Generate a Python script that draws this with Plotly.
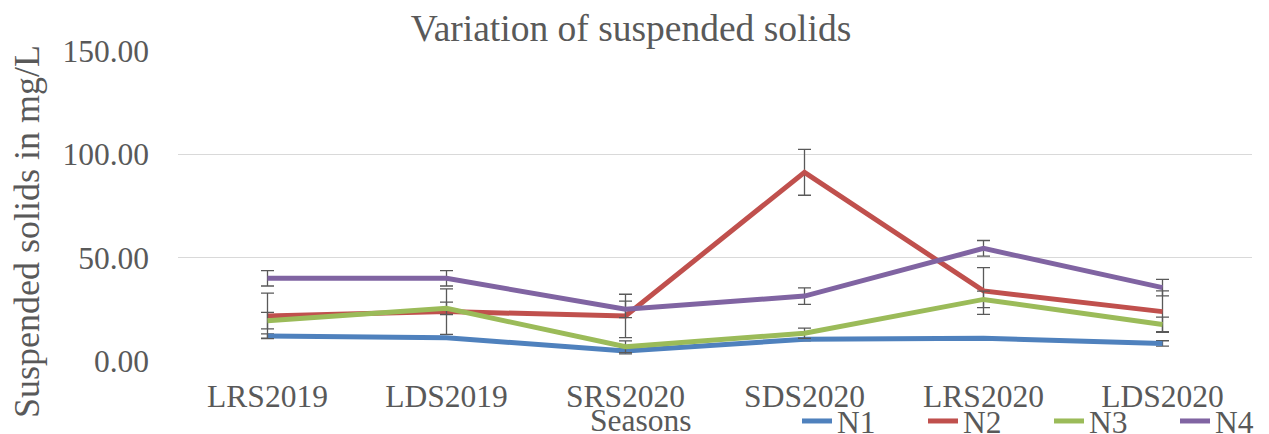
import plotly.graph_objects as go

categories = ["LRS2019", "LDS2019", "SRS2020", "SDS2020", "LRS2020", "LDS2020"]
n1 = [12.1, 11.3, 4.8, 10.5, 11.0, 8.5]
n1_err = [1.0, 0.5, 1.4, 0.8, 0.8, 1.3]
n2 = [21.8, 23.9, 21.8, 91.3, 33.9, 23.9]
n2_err = [11.0, 11.0, 10.5, 11.1, 11.3, 10.0]
n3 = [19.5, 25.5, 6.9, 13.4, 29.8, 17.7]
n3_err = [4.0, 3.0, 2.8, 2.5, 4.0, 3.5]
n4 = [40.0, 40.0, 25.0, 31.4, 54.5, 35.5]
n4_err = [3.7, 3.7, 4.0, 4.0, 3.8, 4.0]
y_ticks = [0, 50, 100, 150]

series = [
    ("N1", n1, n1_err, "#4F81BD"),
    ("N2", n2, n2_err, "#C0504D"),
    ("N3", n3, n3_err, "#9BBB59"),
    ("N4", n4, n4_err, "#8064A2"),
]

FONT = "Liberation Serif, Times New Roman, serif"
TXT = "#595959"

# page body has an 8px offset; figure sized to fit the window
OFF = 8
W, H = 1269 - OFF, 434 - OFF
PL, PR, PT, PB = 178 - OFF, 1252 - OFF, 51 - OFF, 361 - OFF  # plot area in figure px
PW, PHt = PR - PL, PB - PT

def px_x(x):  # window px -> paper fraction
    return (x - OFF - PL) / PW

def px_y(y):
    return (PB - (y - OFF)) / PHt

fig = go.Figure()
for name, vals, errs, col in series:
    fig.add_trace(go.Scatter(
        x=categories, y=vals, name=name, mode="lines",
        line=dict(color=col, width=5),
        error_y=dict(type="data", array=errs, visible=True,
                     color="#595959", thickness=1.3, width=6.5),
    ))

fig.update_layout(
    width=W, height=H,
    margin=dict(l=PL, r=W - PR, t=PT, b=H - PB, autoexpand=False),
    paper_bgcolor="white", plot_bgcolor="white",
    font=dict(family=FONT, color=TXT, size=31.5),
    title=dict(text="Variation of suspended solids",
               x=(631 - OFF) / W, xanchor="center", xref="container",
               y=1 - (28 - OFF) / H, yref="container", yanchor="middle",
               font=dict(size=37.5, color=TXT, family=FONT)),
    showlegend=True,
    legend=dict(orientation="h", xref="container", yref="container",
                x=(797 - OFF) / W, xanchor="left",
                y=1 - (421 - OFF) / H, yanchor="middle",
                font=dict(size=31.5, color=TXT, family=FONT),
                entrywidth=81, entrywidthmode="pixels",
                itemwidth=30, tracegroupgap=0, bgcolor="rgba(0,0,0,0)"),
    annotations=[
        dict(text="Seasons", xref="paper", yref="paper",
             x=px_x(641), y=px_y(420), xanchor="center", yanchor="middle",
             showarrow=False, font=dict(size=31.5, color=TXT, family=FONT)),
        dict(text="Suspended solids in mg/L", xref="paper", yref="paper",
             x=px_x(27), y=px_y(232), xanchor="center", yanchor="middle",
             textangle=-90, showarrow=False,
             font=dict(size=36, color=TXT, family=FONT)),
    ],
)
fig.update_xaxes(range=[-0.5, 5.5], showgrid=False, showline=False, zeroline=False,
                 ticks="", automargin=False, ticklabelstandoff=13,
                 tickfont=dict(size=31.5, color=TXT, family=FONT))
fig.update_yaxes(range=[0, 150], tickvals=y_ticks, tickformat=".2f",
                 automargin=False,
                 showgrid=True, gridcolor="#D9D9D9", gridwidth=1,
                 zeroline=False, showline=False, ticks="",
                 ticklabelstandoff=28,
                 tickfont=dict(size=31.5, color=TXT, family=FONT))

fig.write_html("out.html")
